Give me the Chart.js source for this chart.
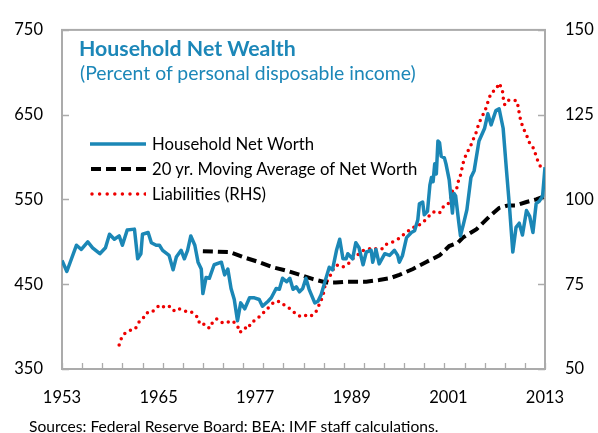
<!DOCTYPE html>
<html>
<head>
<meta charset="utf-8">
<script src="https://cdn.jsdelivr.net/npm/chart.js@4.4.1/dist/chart.umd.min.js"></script>
<style>
  html, body { margin: 0; padding: 0; background: #fff; }
  #wrap { position: relative; width: 598px; height: 433px; overflow: hidden; font-family: Lato, 'Open Sans', sans-serif; }
  #wrap canvas { position: absolute; left: 0; top: 0; }
  .title { position: absolute; left: 79px; top: 38px; font-size: 21.3px; line-height: 21px; font-weight: 700; color: #1C87B8; white-space: nowrap; }
  .subtitle { position: absolute; left: 80px; top: 63px; font-size: 19.4px; line-height: 19px; color: #1C87B8; white-space: nowrap; }
  .legend { position: absolute; left: 90px; top: 131px; }
  .legend .row { height: 25px; display: flex; align-items: center; font-size: 16.7px; color: #000; white-space: nowrap; }
  .legend svg { width: 56px; height: 10px; margin-right: 6px; }
  .source { position: absolute; left: 29px; top: 419px; font-size: 15.6px; line-height: 15px; color: #000; white-space: nowrap; }
</style>
</head>
<body>
<div id="wrap">
  <canvas id="chart" width="598" height="433"></canvas>
  <div class="title">Household Net Wealth</div>
  <div class="subtitle">(Percent of personal disposable income)</div>
  <div class="legend">
    <div class="row"><svg viewBox="0 0 56 10"><line x1="0" y1="5" x2="56" y2="5" stroke="#1B87B6" stroke-width="3.5"/></svg>Household Net Worth</div>
    <div class="row"><svg viewBox="0 0 56 10"><line x1="1" y1="5" x2="56" y2="5" stroke="#000" stroke-width="4" stroke-dasharray="10 5"/></svg>20 yr. Moving Average of Net Worth</div>
    <div class="row"><svg viewBox="0 0 56 10"><line x1="2" y1="5" x2="56" y2="5" stroke="#EE0000" stroke-width="3.5" stroke-linecap="round" stroke-dasharray="0 7.6"/></svg>Liabilities (RHS)</div>
  </div>
  <div class="source">Sources: Federal Reserve Board: BEA: IMF staff calculations.</div>
</div>
<script>
// axis ticks
const xTickYears = [1953, 1965, 1977, 1989, 2001, 2013];
const leftTicks = [350, 450, 550, 650, 750];
const rightTicks = [50, 75, 100, 125, 150];

// household net worth, % of disposable income (left axis)
const netWorthYears = [
  1953.0, 1953.6, 1954.8, 1955.4, 1956.2, 1956.8, 1957.7, 1958.4, 1958.9, 1959.5,
  1960.1, 1960.5, 1961.1, 1962.0, 1962.4, 1962.8, 1963.0, 1963.7, 1964.1, 1964.7,
  1965.1, 1965.5, 1966.3, 1966.8, 1967.2, 1967.8, 1968.2, 1968.6, 1969.0, 1969.5,
  1969.9, 1970.3, 1970.5, 1970.9, 1971.3, 1971.9, 1972.8, 1973.2, 1973.6, 1974.0,
  1974.4, 1974.8, 1975.2, 1975.7, 1976.3, 1976.9, 1977.5, 1977.9, 1978.6, 1979.0,
  1979.6, 1980.0, 1980.4, 1980.9, 1981.3, 1981.7, 1982.1, 1982.5, 1982.9, 1983.3,
  1983.7, 1984.4, 1984.8, 1985.2, 1985.6, 1986.2, 1986.6, 1987.1, 1987.5, 1987.9,
  1988.3, 1988.5, 1989.1, 1989.5, 1989.9, 1990.4, 1990.8, 1991.4, 1991.6, 1992.0,
  1992.4, 1993.1, 1993.7, 1994.3, 1994.7, 1994.9, 1995.3, 1995.8, 1996.4, 1996.8,
  1997.2, 1997.4, 1997.8, 1998.0, 1998.4, 1998.7, 1998.9, 1999.1, 1999.3, 1999.5,
  1999.7, 1999.9, 2000.1, 2000.5, 2000.7, 2001.1, 2001.5, 2001.7, 2001.9, 2002.3,
  2002.5, 2002.9, 2003.3, 2003.8, 2004.2, 2004.8, 2005.5, 2005.9, 2006.3, 2006.9,
  2007.3, 2007.8, 2008.2, 2008.6, 2009.0, 2009.4, 2009.8, 2010.2, 2010.7, 2011.1,
  2011.5, 2011.9, 2012.3, 2012.7, 2013.0
];
const netWorthValues = [
  478, 465, 496, 491, 500, 493, 486, 493, 509, 503,
  507, 496, 514, 515, 480, 486, 509, 511, 499, 496,
  496, 490, 484, 467, 482, 490, 480, 490, 507, 496,
  476, 468, 439, 458, 457, 473, 476, 461, 468, 445,
  432, 407, 428, 421, 434, 434, 432, 424, 430, 434,
  445, 444, 457, 453, 457, 444, 447, 441, 445, 457,
  444, 428, 430, 438, 451, 470, 467, 490, 503, 480,
  480, 486, 480, 499, 493, 473, 488, 490, 476, 491,
  474, 486, 484, 490, 484, 476, 484, 505, 511, 513,
  526, 545, 547, 532, 536, 567, 576, 571, 592, 580,
  619, 617, 601, 599, 592, 573, 534, 557, 554, 522,
  507, 522, 538, 576, 584, 619, 634, 651, 638, 655,
  657, 634, 586, 540, 488, 517, 522, 508, 537, 530,
  511, 545, 548, 554, 588
];

// 20-year moving average of net worth (left axis)
const avgYears = [
  1970.5, 1973.8, 1975.5, 1977.5, 1979.2, 1980.9, 1982.6, 1984.2, 1985.8, 1987.0,
  1988.3, 1990.8, 1992.4, 1993.7, 1994.9, 1996.6, 1998.2, 1999.9, 2001.1, 2002.2,
  2002.8, 2004.5, 2006.1, 2007.3, 2008.4, 2009.4, 2010.7, 2011.9, 2013.0
];
const avgValues = [
  489, 488, 482, 476, 470, 466, 461, 456, 452, 452,
  453, 453, 455, 457, 461, 468, 476, 484, 495, 499,
  505, 515, 530, 540, 543, 543, 547, 550, 554
];

// household liabilities, % of disposable income (right axis)
const liabYears = [
  1960.1, 1960.4, 1960.9, 1961.6, 1962.1, 1962.5, 1963.0, 1963.5, 1964.1, 1964.7,
  1965.2, 1965.9, 1966.4, 1967.0, 1967.6, 1968.3, 1969.0, 1969.5, 1969.9, 1970.1,
  1970.8, 1971.3, 1971.7, 1972.2, 1973.0, 1973.7, 1974.2, 1974.8, 1975.1, 1975.7,
  1976.1, 1976.5, 1977.1, 1977.7, 1978.4, 1978.9, 1979.4, 1980.1, 1980.8, 1981.2,
  1981.7, 1982.3, 1982.8, 1983.2, 1983.8, 1984.5, 1984.9, 1985.3, 1985.5, 1985.7,
  1986.3, 1986.6, 1987.1, 1987.8, 1988.5, 1989.1, 1989.7, 1990.4, 1991.0, 1991.6,
  1992.2, 1992.8, 1993.3, 1994.1, 1994.7, 1995.3, 1996.0, 1996.6, 1997.1, 1997.7,
  1998.3, 1998.9, 1999.3, 1999.9, 2000.3, 2000.9, 2001.3, 2001.5, 2002.0, 2002.2,
  2002.5, 2002.9, 2003.3, 2003.7, 2004.0, 2004.4, 2004.7, 2005.1, 2005.5, 2006.0,
  2006.3, 2006.9, 2007.3, 2007.7, 2007.8, 2008.0, 2008.5, 2009.0, 2009.5, 2009.7,
  2009.8, 2010.0, 2010.3, 2010.7, 2011.0, 2011.5, 2011.8, 2012.1, 2012.5
];
const liabValues = [
  57.1, 59.2, 60.8, 61.5, 61.8, 63.7, 64.7, 66.6, 66.6, 68.0,
  68.9, 68.0, 68.5, 67.0, 67.7, 67.0, 67.0, 65.8, 65.3, 63.2,
  63.2, 62.0, 63.7, 64.8, 63.5, 63.9, 64.2, 62.7, 60.8, 62.2,
  61.8, 63.7, 64.5, 65.8, 67.5, 68.7, 69.9, 69.9, 68.5, 68.0,
  67.0, 65.8, 65.4, 65.8, 65.4, 66.6, 68.7, 70.9, 72.5, 74.9,
  77.4, 79.1, 80.7, 80.0, 80.8, 82.5, 83.6, 84.9, 85.3, 85.8,
  85.3, 85.5, 86.8, 87.5, 88.2, 89.4, 90.7, 91.8, 91.9, 93.1,
  94.2, 96.0, 96.4, 96.0, 97.7, 98.4, 100.3, 102.5, 102.9, 105.1,
  107.2, 111.4, 113.8, 115.4, 117.3, 119.4, 121.8, 124.2, 125.8, 129.4,
  131.4, 132.4, 134.3, 132.4, 130.1, 127.9, 129.3, 129.3, 129.1, 127.0,
  125.3, 123.1, 121.0, 119.1, 117.0, 115.4, 113.5, 111.4, 109.4
];

const toPoints = (xs, ys) => xs.map((x, i) => ({ x: x, y: ys[i] }));

const tickFont = { family: 'Lato, "Open Sans", sans-serif', size: 16.5 };
const frameColor = '#ABABAB';

// box round the plot and the small inward tick marks
const framePlugin = {
  id: 'frame',
  beforeDatasetsDraw(chart) {
    const { ctx, chartArea: a, scales } = chart;
    ctx.save();
    ctx.strokeStyle = frameColor;
    ctx.lineWidth = 1.3;
    ctx.beginPath();
    for (let v = 1953; v <= 2013; v += 2.5) {
      const px = Math.round(scales.x.getPixelForValue(v)) + 0.5;
      ctx.moveTo(px, a.bottom);
      ctx.lineTo(px, a.bottom - 6);
    }
    leftTicks.forEach(v => {
      const py = Math.round(scales.y.getPixelForValue(v)) + 0.5;
      ctx.moveTo(a.left, py);
      ctx.lineTo(a.left + 7, py);
    });
    rightTicks.forEach(v => {
      const py = Math.round(scales.y2.getPixelForValue(v)) + 0.5;
      ctx.moveTo(a.right, py);
      ctx.lineTo(a.right - 7, py);
    });
    ctx.stroke();
    ctx.lineWidth = 2;
    ctx.strokeRect(a.left, a.top, a.right - a.left, a.bottom - a.top);
    ctx.restore();
  }
};

new Chart(document.getElementById('chart'), {
  type: 'line',
  data: {
    datasets: [
      {
        label: 'Liabilities (RHS)',
        data: toPoints(liabYears, liabValues),
        yAxisID: 'y2',
        borderColor: '#EE0000',
        borderWidth: 3.5,
        borderDash: [0, 6.5],
        borderCapStyle: 'round',
        order: 3
      },
      {
        label: '20 yr. Moving Average of Net Worth',
        data: toPoints(avgYears, avgValues),
        yAxisID: 'y',
        borderColor: '#000',
        borderWidth: 4,
        borderDash: [10, 5],
        order: 2
      },
      {
        label: 'Household Net Worth',
        data: toPoints(netWorthYears, netWorthValues),
        yAxisID: 'y',
        borderColor: '#1B87B6',
        borderWidth: 3.5,
        borderJoinStyle: 'round',
        order: 1
      }
    ]
  },
  options: {
    responsive: false,
    animation: false,
    devicePixelRatio: 1,
    layout: { padding: { top: 23, left: 0, right: 0, bottom: 0 } },
    elements: { point: { radius: 0 }, line: { tension: 0, fill: false } },
    plugins: { legend: { display: false }, tooltip: { enabled: false } },
    scales: {
      x: {
        type: 'linear',
        min: 1953,
        max: 2013,
        afterBuildTicks: s => { s.ticks = xTickYears.map(v => ({ value: v })); },
        afterFit: s => { s.height = 64; },
        ticks: { callback: v => String(v), font: tickFont, color: '#000', padding: 19, maxRotation: 0, autoSkip: false },
        grid: { display: false, drawTicks: false },
        border: { display: false }
      },
      y: {
        position: 'left',
        min: 350,
        max: 750,
        afterBuildTicks: s => { s.ticks = leftTicks.map(v => ({ value: v })); },
        afterFit: s => { s.width = 62; },
        ticks: { font: tickFont, color: '#000', padding: 19 },
        grid: { display: false, drawTicks: false },
        border: { display: false }
      },
      y2: {
        position: 'right',
        min: 50,
        max: 150,
        afterBuildTicks: s => { s.ticks = rightTicks.map(v => ({ value: v })); },
        afterFit: s => { s.width = 53; },
        ticks: { font: tickFont, color: '#000', padding: 20 },
        grid: { display: false, drawTicks: false },
        border: { display: false }
      }
    }
  },
  plugins: [framePlugin]
});
</script>
</body>
</html>
